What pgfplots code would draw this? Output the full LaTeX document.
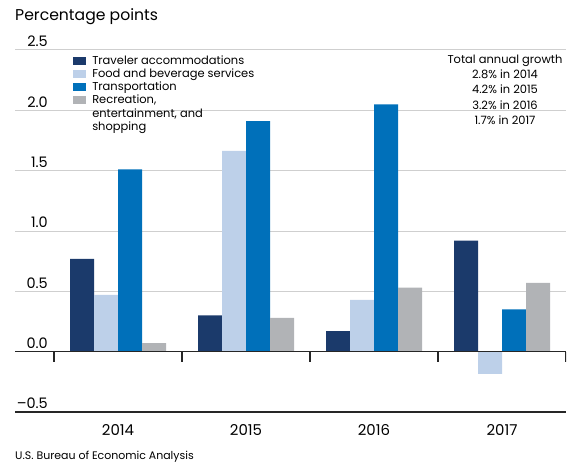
\documentclass[border=0pt]{standalone}
\usepackage{pgfplots}
\pgfplotsset{compat=1.18}
\usepackage{fontspec}
\setmainfont{Poppins}
\definecolor{cNavy}{HTML}{1B3A6B}
\definecolor{cLight}{HTML}{BDD0E9}
\definecolor{cBlue}{HTML}{0070BA}
\definecolor{cGray}{HTML}{B1B3B6}
\definecolor{cGrid}{HTML}{CFCFCF}
\begin{document}
\begin{tikzpicture}
\useasboundingbox (0,0) rectangle (571bp,466bp);
\begin{axis}[
  at={(15bp,54bp)}, anchor=south west,
  scale only axis, width=551bp, height=362bp,
  xmin=-0.805, xmax=3.5, ymin=-0.5, ymax=2.5,
  ybar=0pt, bar width=24bp,
  axis lines*=left,
  x axis line style={black!85, line width=1.1pt, -},
  y axis line style={draw=none},
  xtick={0,1,2,3}, xticklabels={2014,2015,2016,2017},
  major tick length=0pt, tick style={draw=none},
  xticklabel style={font=\fontsize{15}{17}\selectfont, yshift=-9bp},
  ytick={-0.5,0,0.5,1,1.5,2,2.5},
  yticklabels={--0.5,0.0,0.5,1.0,1.5,2.0,2.5},
  yticklabel style={font=\fontsize{14.5}{16}\selectfont, anchor=south east, inner sep=0pt, xshift=33bp, yshift=3bp},
  ymajorgrids, grid style={cGrid, line width=1pt},
  legend style={at={(rel axis cs:0.105,0.989)}, anchor=north west, draw=none, fill=none,
    font=\fontsize{11.5}{13.6}\selectfont, inner sep=0pt, row sep=0.6bp,
    nodes={inner sep=1.2bp, anchor=base west}},
  legend cell align=left,
  legend image code/.code={\path[#1,draw=none] (0bp,-0.5bp) rectangle (13bp,7.5bp);},
]
\addplot[fill=cNavy, draw=none] coordinates {(0,0.77) (1,0.30) (2,0.17) (3,0.92)};
\addplot[fill=cLight, draw=none] coordinates {(0,0.47) (1,1.665) (2,0.43) (3,-0.185)};
\addplot[fill=cBlue, draw=none] coordinates {(0,1.51) (1,1.91) (2,2.05) (3,0.35)};
\addplot[fill=cGray, draw=none] coordinates {(0,0.07) (1,0.28) (2,0.53) (3,0.57)};
\addlegendentry{\hspace{5bp}Traveler accommodations}
\addlegendentry{\hspace{5bp}Food and beverage services}
\addlegendentry{\hspace{5bp}Transportation}
\addlegendentry{\hspace{5bp}\parbox[t]{140bp}{Recreation,\\entertainment, and\\shopping}}
\draw[black!85, line width=1.1pt] (axis cs:-0.805,0) -- (axis cs:3.5,0);
\pgfplotsinvokeforeach{-0.5,0.5,1.5,2.5,3.5}{
  \draw[black!85, line width=1.1pt] (axis cs:#1,0) -- ([yshift=-10bp]axis cs:#1,0);
  \draw[black!85, line width=1.1pt] (axis cs:#1,-0.5) -- ([yshift=-8bp]axis cs:#1,-0.5);
}
\end{axis}
\node[anchor=west, inner sep=0pt, font=\fontsize{15.7}{17}\selectfont] at (15bp,449bp) {Percentage points};
\node[anchor=north, align=center, inner sep=0pt, font=\fontsize{11.5}{15.2}\selectfont] at (505bp,411bp)
  {Total annual growth\\2.8\% in 2014\\4.2\% in 2015\\3.2\% in 2016\\1.7\% in 2017};
\node[anchor=west, inner sep=0pt, font=\fontsize{11}{12}\selectfont] at (15bp,9bp) {U.S. Bureau of Economic Analysis};
\end{tikzpicture}
\end{document}
